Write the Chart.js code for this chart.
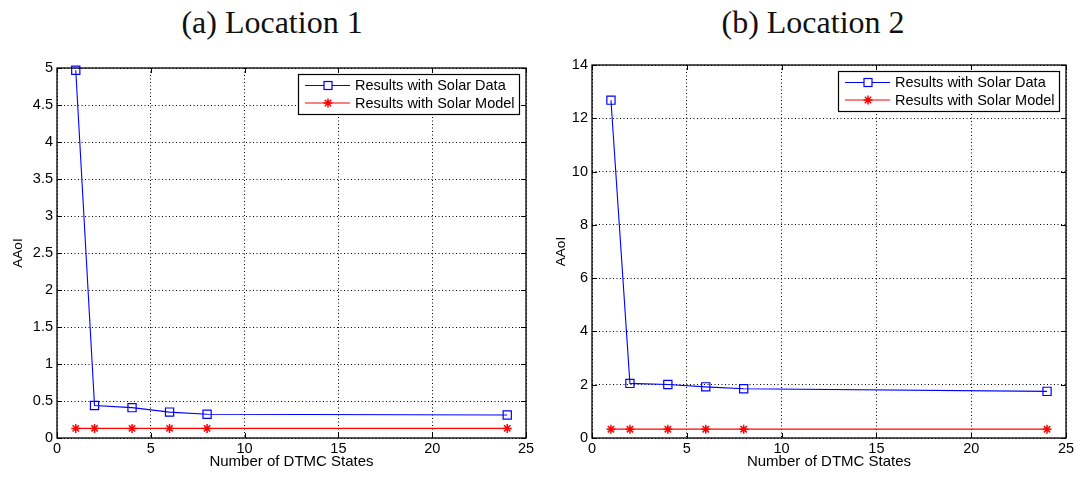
<!DOCTYPE html>
<html lang="en">
<head>
    <meta charset="UTF-8">
    <title>AAoI vs Number of DTMC States</title>
    <script src="https://cdn.jsdelivr.net/npm/chart.js"></script>
    <style>
        body {
            margin: 0;
            padding: 0;
            background-color: #fff;
            width: 1080px;
            height: 479px;
            position: relative;
            overflow: hidden;
        }
        canvas {
            position: absolute;
            top: 0;
        }
        .caption {
            position: absolute;
            top: 5px;
            width: 260px;
            text-align: center;
            font-family: "Liberation Serif", serif;
            font-size: 32px;
            line-height: 34px;
            color: #111;
        }
    </style>
</head>
<body>
    <div class="caption" style="left:142px">(a) Location 1</div>
    <div class="caption" style="left:683px">(b) Location 2</div>
    <canvas id="chart1" width="540" height="479" style="left:0"></canvas>
    <canvas id="chart2" width="540" height="479" style="left:540px"></canvas>

    <script>
        // number of DTMC states on the x axis
        var states = [1, 2, 4, 6, 8, 24];

        // Location 1
        var loc1SolarData = [4.97, 0.44, 0.41, 0.35, 0.32, 0.31];
        var loc1SolarModel = [0.13, 0.13, 0.13, 0.13, 0.13, 0.13];

        // Location 2
        var loc2SolarData = [12.68, 2.05, 2.01, 1.92, 1.85, 1.75];
        var loc2SolarModel = [0.33, 0.33, 0.33, 0.33, 0.33, 0.33];

        var seriesNames = ['Results with Solar Data', 'Results with Solar Model'];

        function toPoints(ys) {
            return states.map(function (x, i) { return { x: x, y: ys[i] }; });
        }

        // MATLAB-like box, inward ticks and legend
        var matlabFrame = {
            id: 'matlabFrame',
            afterDraw: function (chart) {
                var ctx = chart.ctx;
                var a = chart.chartArea;
                var sx = chart.scales.x, sy = chart.scales.y;
                ctx.save();
                ctx.strokeStyle = '#000';
                ctx.lineWidth = 1.3;
                ctx.setLineDash([]);
                ctx.strokeRect(a.left, a.top, a.right - a.left, a.bottom - a.top);

                ctx.lineWidth = 1;
                ctx.beginPath();
                sx.ticks.forEach(function (t) {
                    var px = Math.round(sx.getPixelForValue(t.value)) + 0.5;
                    ctx.moveTo(px, a.bottom); ctx.lineTo(px, a.bottom - 5);
                    ctx.moveTo(px, a.top); ctx.lineTo(px, a.top + 5);
                });
                sy.ticks.forEach(function (t) {
                    var py = Math.round(sy.getPixelForValue(t.value)) + 0.5;
                    ctx.moveTo(a.left, py); ctx.lineTo(a.left + 5, py);
                    ctx.moveTo(a.right, py); ctx.lineTo(a.right - 5, py);
                });
                ctx.stroke();

                // legend
                var w = 221, h = 40;
                var x0 = a.right - 7 - w, y0 = a.top + 6;
                ctx.fillStyle = '#fff';
                ctx.fillRect(x0, y0, w, h);
                ctx.strokeStyle = '#000';
                ctx.lineWidth = 1.2;
                ctx.strokeRect(x0 + 0.5, y0 + 0.5, w, h);

                ctx.font = '14.5px "Liberation Sans", Arial, sans-serif';
                ctx.textBaseline = 'middle';
                chart.data.datasets.forEach(function (ds, i) {
                    var ry = y0 + 11.5 + i * 17.5;
                    var mx = x0 + 30;
                    ctx.strokeStyle = ds.borderColor;
                    ctx.lineWidth = 1.2;
                    ctx.beginPath();
                    ctx.moveTo(x0 + 7, ry); ctx.lineTo(x0 + 52, ry);
                    ctx.stroke();
                    ctx.beginPath();
                    if (ds.pointStyle === 'rect') {
                        ctx.fillStyle = '#fff';
                        ctx.fillRect(mx - 4, ry - 4, 8, 8);
                        ctx.strokeRect(mx - 4, ry - 4, 8, 8);
                    } else {
                        ctx.lineWidth = 1.5;
                        for (var k = 0; k < 4; k++) {
                            var ang = k * Math.PI / 4;
                            ctx.moveTo(mx - 4.5 * Math.cos(ang), ry - 4.5 * Math.sin(ang));
                            ctx.lineTo(mx + 4.5 * Math.cos(ang), ry + 4.5 * Math.sin(ang));
                        }
                        ctx.stroke();
                    }
                    ctx.fillStyle = '#000';
                    ctx.fillText(ds.label, x0 + 57, ry + 0.5);
                });
                ctx.restore();
            }
        };

        function plainNumber(value) {
            return String(Math.round(value * 100) / 100);
        }

        function makeChart(id, solarData, solarModel, yMax, yStep, areaLeft, yTitlePad, areaTop) {
            var ctx = document.getElementById(id).getContext('2d');
            return new Chart(ctx, {
                type: 'line',
                data: {
                    datasets: [{
                        label: seriesNames[0],
                        data: toPoints(solarData),
                        borderColor: '#0000ff',
                        backgroundColor: 'rgba(0,0,0,0)',
                        borderWidth: 1.1,
                        pointStyle: 'rect',
                        pointRadius: 5.8,
                        pointBorderWidth: 1.2,
                        pointBackgroundColor: 'rgba(0,0,0,0)',
                        pointBorderColor: '#0000ff',
                        tension: 0,
                        clip: false
                    }, {
                        label: seriesNames[1],
                        data: toPoints(solarModel),
                        borderColor: '#ff0000',
                        backgroundColor: 'rgba(0,0,0,0)',
                        borderWidth: 1.2,
                        pointStyle: 'star',
                        pointRadius: 4.5,
                        pointBorderWidth: 1.5,
                        pointBorderColor: '#ff0000',
                        tension: 0,
                        clip: false
                    }]
                },
                options: {
                    responsive: false,
                    animation: false,
                    events: [],
                    layout: {
                        padding: { top: areaTop, right: 14, left: 0, bottom: 0 }
                    },
                    plugins: {
                        legend: { display: false },
                        tooltip: { enabled: false }
                    },
                    scales: {
                        x: {
                            type: 'linear',
                            min: 0,
                            max: 25,
                            ticks: {
                                stepSize: 5,
                                padding: 2,
                                color: '#000',
                                callback: plainNumber,
                                font: { family: '"Liberation Sans", Arial, sans-serif', size: 14.5 }
                            },
                            grid: { color: '#000', lineWidth: 1, drawTicks: false },
                            border: { display: false, dash: [1, 2.5] },
                            title: {
                                display: true,
                                text: 'Number of DTMC States',
                                color: '#000',
                                padding: { top: 0, bottom: 8 },
                                font: { family: '"Liberation Sans", Arial, sans-serif', size: 15 }
                            },
                            afterFit: function (scale) { scale.height = 41; }
                        },
                        y: {
                            min: 0,
                            max: yMax,
                            ticks: {
                                stepSize: yStep,
                                padding: 4,
                                color: '#000',
                                callback: plainNumber,
                                font: { family: '"Liberation Sans", Arial, sans-serif', size: 14.5 }
                            },
                            grid: { color: '#000', lineWidth: 1, drawTicks: false },
                            border: { display: false, dash: [1, 2.5] },
                            title: {
                                display: true,
                                text: 'AAoI',
                                color: '#000',
                                padding: { top: yTitlePad, bottom: 0 },
                                font: { family: '"Liberation Sans", Arial, sans-serif', size: 13.5 }
                            },
                            afterFit: function (scale) { scale.width = areaLeft; }
                        }
                    }
                },
                plugins: [matlabFrame]
            });
        }

        makeChart('chart1', loc1SolarData, loc1SolarModel, 5, 0.5, 57, 10, 68);
        makeChart('chart2', loc2SolarData, loc2SolarModel, 14, 2, 52, 13, 65);
    </script>
</body>
</html>
